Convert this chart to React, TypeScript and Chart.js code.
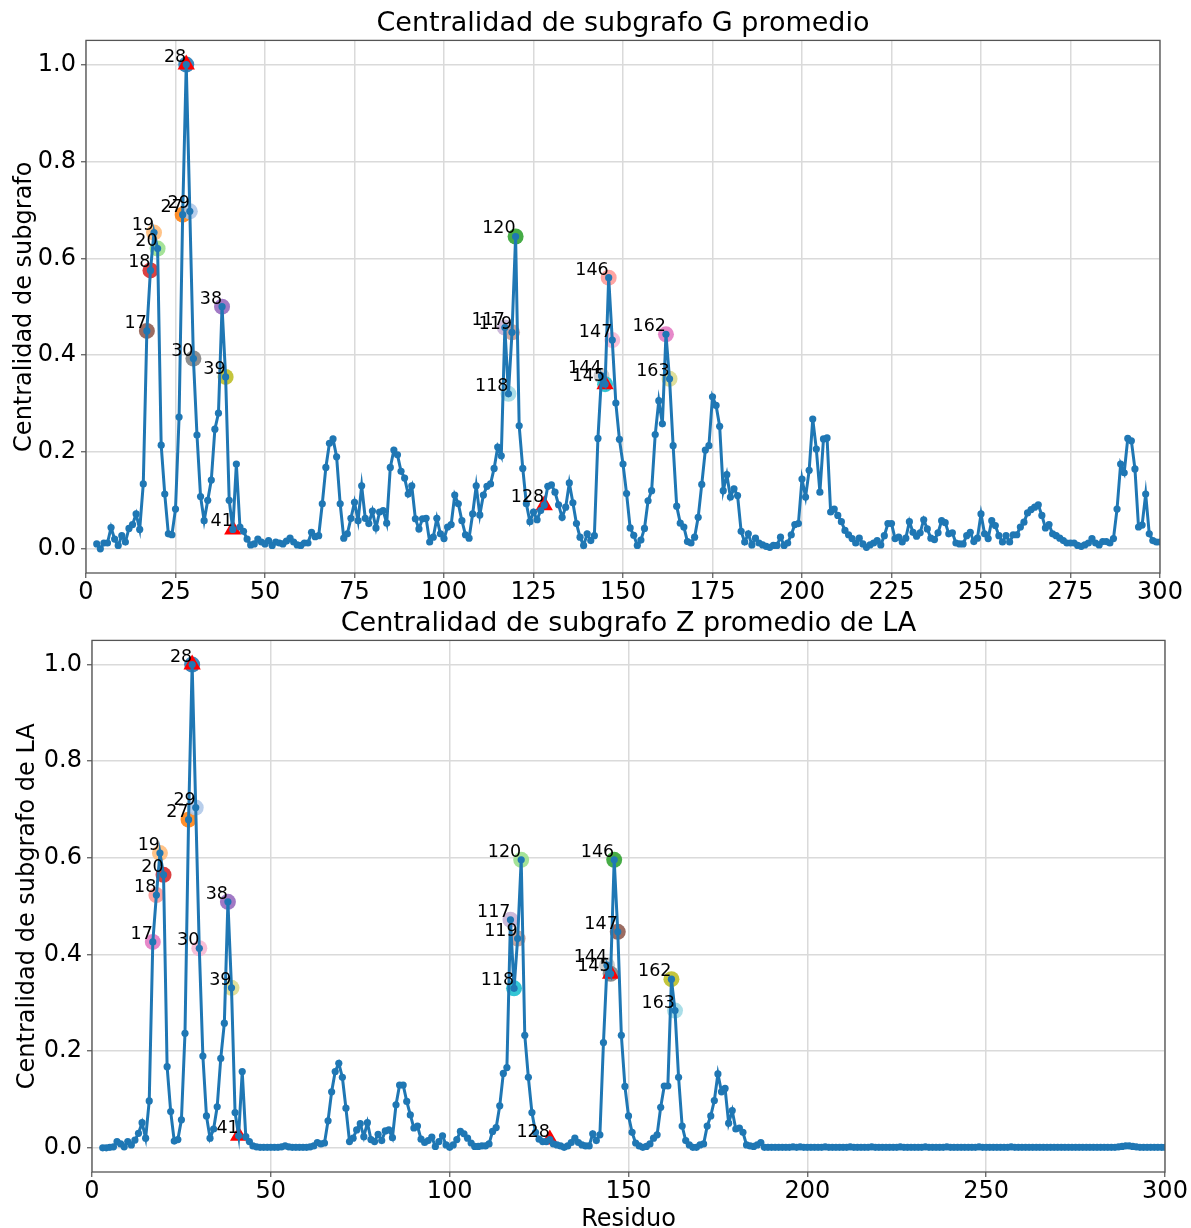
import React, { useEffect, useRef } from 'react';
import { Chart, registerables } from 'chart.js';

Chart.register(...registerables);

const FONT = '"DejaVu Sans", "Liberation Sans", sans-serif';

// Residue numbers 3..300
const FIRST_RESIDUE = 3;
const LAST_RESIDUE = 300;
const residues: number[] = [];
for (let r = FIRST_RESIDUE; r <= LAST_RESIDUE; r++) residues.push(r);

// Top panel: average subgraph centrality G (rows of 10 residues starting at 3)
const valuesG: number[] = [
  0.010, 0.000, 0.012, 0.012, 0.044, 0.020, 0.007, 0.027, 0.014, 0.042, // 3-12
  0.050, 0.072, 0.040, 0.134, 0.450, 0.575, 0.653, 0.620, 0.214, 0.113, // 13-22
  0.031, 0.029, 0.082, 0.272, 0.690, 1.000, 0.697, 0.393, 0.235, 0.108, // 23-32
  0.058, 0.100, 0.142, 0.247, 0.280, 0.500, 0.355, 0.100, 0.040, 0.175, // 33-42
  0.045, 0.036, 0.020, 0.008, 0.010, 0.020, 0.014, 0.010, 0.017, 0.007, // 43-52
  0.014, 0.012, 0.010, 0.016, 0.022, 0.014, 0.008, 0.007, 0.012, 0.012, // 53-62
  0.034, 0.025, 0.027, 0.093, 0.168, 0.218, 0.227, 0.190, 0.093, 0.022, // 63-72
  0.031, 0.063, 0.096, 0.058, 0.130, 0.063, 0.052, 0.078, 0.043, 0.076, // 73-82
  0.079, 0.053, 0.168, 0.204, 0.194, 0.160, 0.146, 0.113, 0.130, 0.062, // 83-92
  0.041, 0.062, 0.063, 0.014, 0.024, 0.063, 0.031, 0.021, 0.045, 0.050, // 93-102
  0.111, 0.093, 0.058, 0.029, 0.022, 0.072, 0.130, 0.070, 0.111, 0.129, // 103-112
  0.134, 0.166, 0.210, 0.192, 0.457, 0.320, 0.447, 0.645, 0.254, 0.166, // 113-122
  0.093, 0.056, 0.076, 0.060, 0.079, 0.090, 0.129, 0.132, 0.117, 0.091, // 123-132
  0.065, 0.086, 0.136, 0.095, 0.052, 0.024, 0.007, 0.031, 0.017, 0.027, // 133-142
  0.228, 0.357, 0.340, 0.560, 0.431, 0.301, 0.226, 0.175, 0.114, 0.043, // 143-152
  0.028, 0.007, 0.018, 0.042, 0.099, 0.120, 0.236, 0.306, 0.258, 0.443, // 153-162
  0.351, 0.213, 0.088, 0.053, 0.045, 0.015, 0.012, 0.024, 0.065, 0.133, // 163-172
  0.204, 0.213, 0.314, 0.296, 0.253, 0.120, 0.153, 0.107, 0.124, 0.110, // 173-182
  0.036, 0.014, 0.031, 0.008, 0.022, 0.012, 0.008, 0.005, 0.003, 0.007, // 183-192
  0.007, 0.024, 0.007, 0.012, 0.029, 0.050, 0.052, 0.144, 0.107, 0.162, // 193-202
  0.268, 0.206, 0.117, 0.227, 0.229, 0.076, 0.082, 0.069, 0.056, 0.038, // 203-212
  0.029, 0.021, 0.012, 0.022, 0.010, 0.003, 0.008, 0.012, 0.017, 0.008, // 213-222
  0.027, 0.052, 0.052, 0.021, 0.024, 0.014, 0.022, 0.056, 0.034, 0.026, // 223-232
  0.033, 0.060, 0.041, 0.022, 0.019, 0.033, 0.058, 0.054, 0.031, 0.033, // 233-242
  0.012, 0.010, 0.010, 0.027, 0.034, 0.015, 0.022, 0.072, 0.031, 0.021, // 243-252
  0.058, 0.048, 0.027, 0.014, 0.027, 0.014, 0.029, 0.029, 0.045, 0.055, // 253-262
  0.074, 0.081, 0.086, 0.091, 0.069, 0.043, 0.050, 0.031, 0.027, 0.022, // 263-272
  0.017, 0.012, 0.012, 0.012, 0.007, 0.005, 0.008, 0.012, 0.021, 0.012, // 273-282
  0.008, 0.015, 0.015, 0.012, 0.021, 0.082, 0.175, 0.157, 0.228, 0.223, // 283-292
  0.165, 0.045, 0.049, 0.113, 0.031, 0.017, 0.014, 0.014,               // 293-300
];

// Bottom panel: average subgraph centrality Z of LA
const valuesZ: number[] = [
  0.000, 0.000, 0.001, 0.002, 0.013, 0.008, 0.002, 0.013, 0.006, 0.016, // 3-12
  0.030, 0.052, 0.020, 0.097, 0.426, 0.523, 0.610, 0.565, 0.168, 0.075, // 13-22
  0.014, 0.017, 0.058, 0.237, 0.679, 1.000, 0.704, 0.413, 0.190, 0.066, // 23-32
  0.020, 0.039, 0.085, 0.185, 0.258, 0.509, 0.331, 0.073, 0.025, 0.158, // 33-42
  0.023, 0.013, 0.004, 0.002, 0.001, 0.001, 0.001, 0.001, 0.001, 0.001, // 43-52
  0.002, 0.004, 0.002, 0.001, 0.001, 0.001, 0.001, 0.001, 0.002, 0.004, // 53-62
  0.011, 0.008, 0.010, 0.056, 0.116, 0.158, 0.175, 0.146, 0.082, 0.013, // 63-72
  0.020, 0.037, 0.050, 0.023, 0.052, 0.017, 0.013, 0.028, 0.015, 0.035, // 73-82
  0.037, 0.021, 0.089, 0.130, 0.130, 0.096, 0.068, 0.041, 0.045, 0.018, // 83-92
  0.011, 0.015, 0.022, 0.003, 0.013, 0.025, 0.006, 0.001, 0.006, 0.017, // 93-102
  0.034, 0.029, 0.020, 0.010, 0.003, 0.003, 0.004, 0.004, 0.008, 0.034, // 103-112
  0.042, 0.087, 0.154, 0.166, 0.472, 0.330, 0.433, 0.596, 0.233, 0.146, // 113-122
  0.073, 0.032, 0.018, 0.013, 0.013, 0.017, 0.008, 0.006, 0.004, 0.001, // 123-132
  0.004, 0.011, 0.020, 0.011, 0.006, 0.004, 0.004, 0.029, 0.015, 0.027, // 133-142
  0.218, 0.378, 0.360, 0.596, 0.447, 0.233, 0.127, 0.066, 0.032, 0.010, // 143-152
  0.004, 0.001, 0.003, 0.008, 0.020, 0.027, 0.084, 0.128, 0.128, 0.349, // 153-162
  0.284, 0.146, 0.045, 0.015, 0.006, 0.001, 0.001, 0.006, 0.008, 0.045, // 163-172
  0.066, 0.098, 0.153, 0.116, 0.123, 0.051, 0.077, 0.039, 0.041, 0.032, // 173-182
  0.006, 0.004, 0.003, 0.006, 0.011, 0.001, 0.001, 0.001, 0.001, 0.001, // 183-192
  0.001, 0.001, 0.001, 0.002, 0.001, 0.002, 0.001, 0.001, 0.001, 0.001, // 193-202
  0.001, 0.001, 0.002, 0.001, 0.001, 0.001, 0.001, 0.001, 0.001, 0.002, // 203-212
  0.001, 0.001, 0.001, 0.001, 0.001, 0.002, 0.001, 0.001, 0.001, 0.001, // 213-222
  0.001, 0.001, 0.001, 0.002, 0.001, 0.001, 0.001, 0.001, 0.001, 0.001, // 223-232
  0.002, 0.001, 0.001, 0.001, 0.001, 0.001, 0.002, 0.001, 0.001, 0.001, // 233-242
  0.001, 0.001, 0.001, 0.001, 0.001, 0.002, 0.001, 0.001, 0.001, 0.001, // 243-252
  0.001, 0.001, 0.001, 0.001, 0.002, 0.001, 0.001, 0.001, 0.001, 0.001, // 253-262
  0.001, 0.001, 0.001, 0.001, 0.001, 0.001, 0.001, 0.001, 0.001, 0.001, // 263-272
  0.001, 0.001, 0.001, 0.001, 0.001, 0.001, 0.001, 0.001, 0.001, 0.001, // 273-282
  0.001, 0.001, 0.001, 0.001, 0.002, 0.003, 0.004, 0.004, 0.003, 0.002, // 283-292
  0.001, 0.001, 0.001, 0.001, 0.001, 0.001, 0.001, 0.001,               // 293-300
];

// Highlighted residues (coloured circles with labels)
const highlightResidues: number[] = [17, 18, 19, 20, 27, 28, 29, 30, 38, 39, 117, 118, 119, 120, 144, 145, 146, 147, 162, 163];
const highlightColorsG: string[] = [
  '#8c564b', '#d62728', '#ffbb78', '#98df8a', '#ff7f0e', '#1f77b4', '#aec7e8', '#7f7f7f', '#9467bd', '#bcbd22',
  '#c5b0d5', '#9edae5', '#c49c94', '#2ca02c', '#c7c7c7', '#17becf', '#ff9896', '#f7b6d2', '#e377c2', '#dbdb8d',
];
const highlightColorsZ: string[] = [
  '#e377c2', '#ff9896', '#ffbb78', '#d62728', '#ff7f0e', '#1f77b4', '#aec7e8', '#f7b6d2', '#9467bd', '#dbdb8d',
  '#c5b0d5', '#17becf', '#c49c94', '#98df8a', '#c7c7c7', '#7f7f7f', '#2ca02c', '#8c564b', '#bcbd22', '#9edae5',
];
// Red triangle markers
const triangleResidues: number[] = [28, 41, 128, 145];
// Labelled residues
const labelResidues: number[] = [...highlightResidues, 41, 128];

const xTicksG: number[] = [0, 25, 50, 75, 100, 125, 150, 175, 200, 225, 250, 275, 300];
const xTicksZ: number[] = [0, 50, 100, 150, 200, 250, 300];
const yTicks: number[] = [0, 0.2, 0.4, 0.6, 0.8, 1.0];

type PanelProps = {
  values: number[];
  colors: string[];
  title: string;
  yTitle: string;
  xTitle: string | null;
  xTicks: number[];
  width: number;
  height: number;
  yAxisWidth: number;
  xAxisHeight: number;
  rightPad: number;
  yTitlePad: number;
  top: number;
};

function valueAt(values: number[], r: number): number {
  return values[r - FIRST_RESIDUE];
}

function Panel(p: PanelProps) {
  const ref = useRef<HTMLCanvasElement | null>(null);
  useEffect(() => {
    const canvas = ref.current;
    if (!canvas) return;

    const labelPlugin = {
      id: 'resLabels',
      afterDatasetsDraw(chart: any) {
        const { ctx, scales } = chart;
        ctx.save();
        ctx.font = `17.5px ${FONT}`;
        ctx.fillStyle = '#000';
        ctx.textAlign = 'right';
        ctx.textBaseline = 'alphabetic';
        for (const r of labelResidues) {
          const px = scales.x.getPixelForValue(r);
          const py = scales.y.getPixelForValue(valueAt(p.values, r));
          ctx.fillText(String(r), px, py - 3);
        }
        ctx.restore();
      },
    };
    const framePlugin = {
      id: 'frame',
      afterDraw(chart: any) {
        const { ctx, chartArea } = chart;
        ctx.save();
        ctx.strokeStyle = '#555';
        ctx.lineWidth = 1.3;
        ctx.strokeRect(chartArea.left, chartArea.top, chartArea.right - chartArea.left, chartArea.bottom - chartArea.top);
        ctx.restore();
      },
    };

    const gridOpts = { color: '#dadada', lineWidth: 1.5, tickColor: '#555', tickLength: 5, tickWidth: 1.2 };

    const chart = new Chart(canvas, {
      type: 'line',
      data: {
        datasets: [
          {
            data: residues.map((r, i) => ({ x: r, y: p.values[i] })),
            borderColor: '#1f77b4',
            backgroundColor: '#1f77b4',
            borderWidth: 3,
            pointRadius: 3.6,
            pointBorderWidth: 0,
            pointBackgroundColor: '#1f77b4',
            tension: 0,
            order: 0,
          },
          {
            data: triangleResidues.map((r) => ({ x: r, y: valueAt(p.values, r) })),
            showLine: false,
            pointStyle: 'triangle',
            pointRadius: 10,
            pointBorderWidth: 0,
            pointBackgroundColor: '#ff0000',
            borderColor: '#ff0000',
            order: 1,
          },
          {
            data: highlightResidues.map((r) => ({ x: r, y: valueAt(p.values, r) })),
            showLine: false,
            pointRadius: 8,
            pointBorderWidth: 0,
            pointBackgroundColor: p.colors.map((c) => c + 'e0'),
            borderColor: 'transparent',
            order: 2,
          },
        ],
      },
      options: {
        animation: false,
        responsive: false,
        maintainAspectRatio: false,
        events: [],
        layout: { padding: { left: 0, right: p.rightPad, top: 0, bottom: 0 } },
        plugins: {
          legend: { display: false },
          tooltip: { enabled: false },
          title: {
            display: true,
            text: p.title,
            color: '#000',
            fullSize: false,
            font: { family: FONT, size: 27, weight: 'normal', lineHeight: 1.2 },
            padding: { top: 8, bottom: 0 },
          },
        },
        scales: {
          x: {
            type: 'linear',
            min: 0,
            max: 300,
            afterBuildTicks: (s: any) => {
              s.ticks = p.xTicks.map((v) => ({ value: v }));
            },
            afterFit: (s: any) => {
              s.height = p.xAxisHeight;
            },
            ticks: {
              font: { family: FONT, size: 24 },
              color: '#000',
              padding: 0,
              maxRotation: 0,
              autoSkip: false,
              callback: (v: any) => String(v),
            },
            grid: gridOpts,
            border: { display: false },
            title: {
              display: !!p.xTitle,
              text: p.xTitle || '',
              color: '#000',
              font: { family: FONT, size: 24 },
              padding: { top: 0, bottom: 0 },
            },
          },
          y: {
            type: 'linear',
            min: -0.05,
            max: 1.05,
            afterBuildTicks: (s: any) => {
              s.ticks = yTicks.map((v) => ({ value: v }));
            },
            afterFit: (s: any) => {
              s.width = p.yAxisWidth;
            },
            ticks: {
              font: { family: FONT, size: 24 },
              color: '#000',
              padding: 5,
              callback: (v: any) => Number(v).toFixed(1),
            },
            grid: gridOpts,
            border: { display: false },
            title: {
              display: true,
              text: p.yTitle,
              color: '#000',
              font: { family: FONT, size: 24 },
              padding: { top: p.yTitlePad, bottom: 0 },
            },
          },
        },
      },
      plugins: [labelPlugin, framePlugin],
    } as any);
    return () => chart.destroy();
  }, []);

  return (
    <canvas
      ref={ref}
      width={p.width}
      height={p.height}
      style={{ position: 'absolute', left: 0, top: p.top, width: p.width, height: p.height }}
    />
  );
}

export default function App() {
  return (
    <div style={{ position: 'absolute', left: 0, top: 0, width: 1191, height: 1228, overflow: 'hidden', background: '#fff' }}>
      <Panel
        values={valuesG}
        colors={highlightColorsG}
        title="Centralidad de subgrafo G promedio"
        yTitle="Centralidad de subgrafo"
        xTitle={null}
        xTicks={xTicksG}
        width={1191}
        height={605}
        yAxisWidth={86}
        xAxisHeight={32}
        rightPad={31}
        yTitlePad={10}
        top={0}
      />
      <Panel
        values={valuesZ}
        colors={highlightColorsZ}
        title="Centralidad de subgrafo Z promedio de LA"
        yTitle="Centralidad de subgrafo de LA"
        xTitle="Residuo"
        xTicks={xTicksZ}
        width={1191}
        height={634}
        yAxisWidth={92}
        xAxisHeight={62}
        rightPad={26}
        yTitlePad={13}
        top={600}
      />
    </div>
  );
}
